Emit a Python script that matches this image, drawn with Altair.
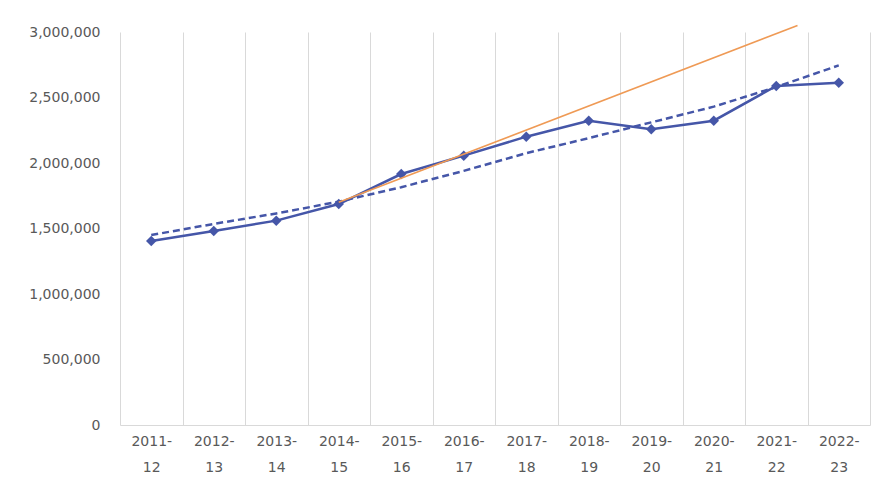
import altair as alt
import pandas as pd

categories = ["2011-12", "2012-13", "2013-14", "2014-15", "2015-16", "2016-17",
              "2017-18", "2018-19", "2019-20", "2020-21", "2021-22", "2022-23"]
visitors = [1405000, 1481000, 1560000, 1687000, 1916000, 2056000,
            2201000, 2323000, 2257000, 2323000, 2588000, 2613000]
trend_values = [1450000, 1535000, 1615000, 1705000, 1815000, 1940000,
                2075000, 2190000, 2310000, 2430000, 2580000, 2745000]
orange_idx = [3.0, 10.34]
orange_values = [1700000, 3050000]
y_ticks = [0, 500000, 1000000, 1500000, 2000000, 2500000, 3000000]

BLUE = "#4556a8"
ORANGE = "#ef9a55"
GRID = "#d9d9d9"
LABEL = "#595959"
FONT = "DejaVu Sans"

df = pd.DataFrame({"year": categories, "visitors": visitors, "trend": trend_values})
df_orange = pd.DataFrame({"idx": orange_idx, "value": orange_values})

y_scale = alt.Scale(domain=[0, 3000000], nice=False, zero=True)

x_enc = alt.X(
    "year:N", sort=categories,
    scale=alt.Scale(type="band", paddingInner=0, paddingOuter=0),
    axis=alt.Axis(
        title=None, grid=True, tickBand="extent", ticks=False, domain=True,
        domainColor=GRID, gridColor=GRID, gridWidth=1, labelAngle=0,
        labelExpr="[slice(datum.label, 0, 5), slice(datum.label, 5)]",
        labelLineHeight=26, labelPadding=9, labelFontSize=14,
        labelColor=LABEL, labelFont=FONT, labelBaseline="top",
    ),
)

y_axis = alt.Axis(
    title=None, values=y_ticks, labelExpr="format(datum.value, ',')",
    grid=False, domain=False, ticks=False, tickSize=0, labelPadding=20,
    labelFontSize=14, labelColor=LABEL, labelFont=FONT,
)

base = alt.Chart(df)

line = base.mark_line(color=BLUE, strokeWidth=2.5).encode(
    x=x_enc, y=alt.Y("visitors:Q", scale=y_scale, axis=y_axis))
pts = base.mark_point(shape="diamond", filled=True, size=110, color=BLUE, opacity=1).encode(
    x=x_enc, y=alt.Y("visitors:Q", scale=y_scale, axis=y_axis))
trend = base.mark_line(color=BLUE, strokeWidth=2.5, strokeDash=[7, 4]).encode(
    x=x_enc, y=alt.Y("trend:Q", scale=y_scale, axis=y_axis))

orange = alt.Chart(df_orange).mark_line(color=ORANGE, strokeWidth=1.6).encode(
    x=alt.X("idx:Q", scale=alt.Scale(domain=[-0.5, 11.5], nice=False, zero=False), axis=None),
    y=alt.Y("value:Q", scale=y_scale, axis=y_axis),
)

main = alt.layer(line, trend, pts)

chart = alt.layer(main, orange).resolve_scale(x="independent").properties(
    width=750, height=393,
    autosize=alt.AutoSizeParams(type="none"),
    padding={"left": 112, "top": 24, "right": 6, "bottom": 60},
    background="white",
).configure_view(stroke=None)

chart.save("out.html", embed_options={"renderer": "svg", "actions": False})
